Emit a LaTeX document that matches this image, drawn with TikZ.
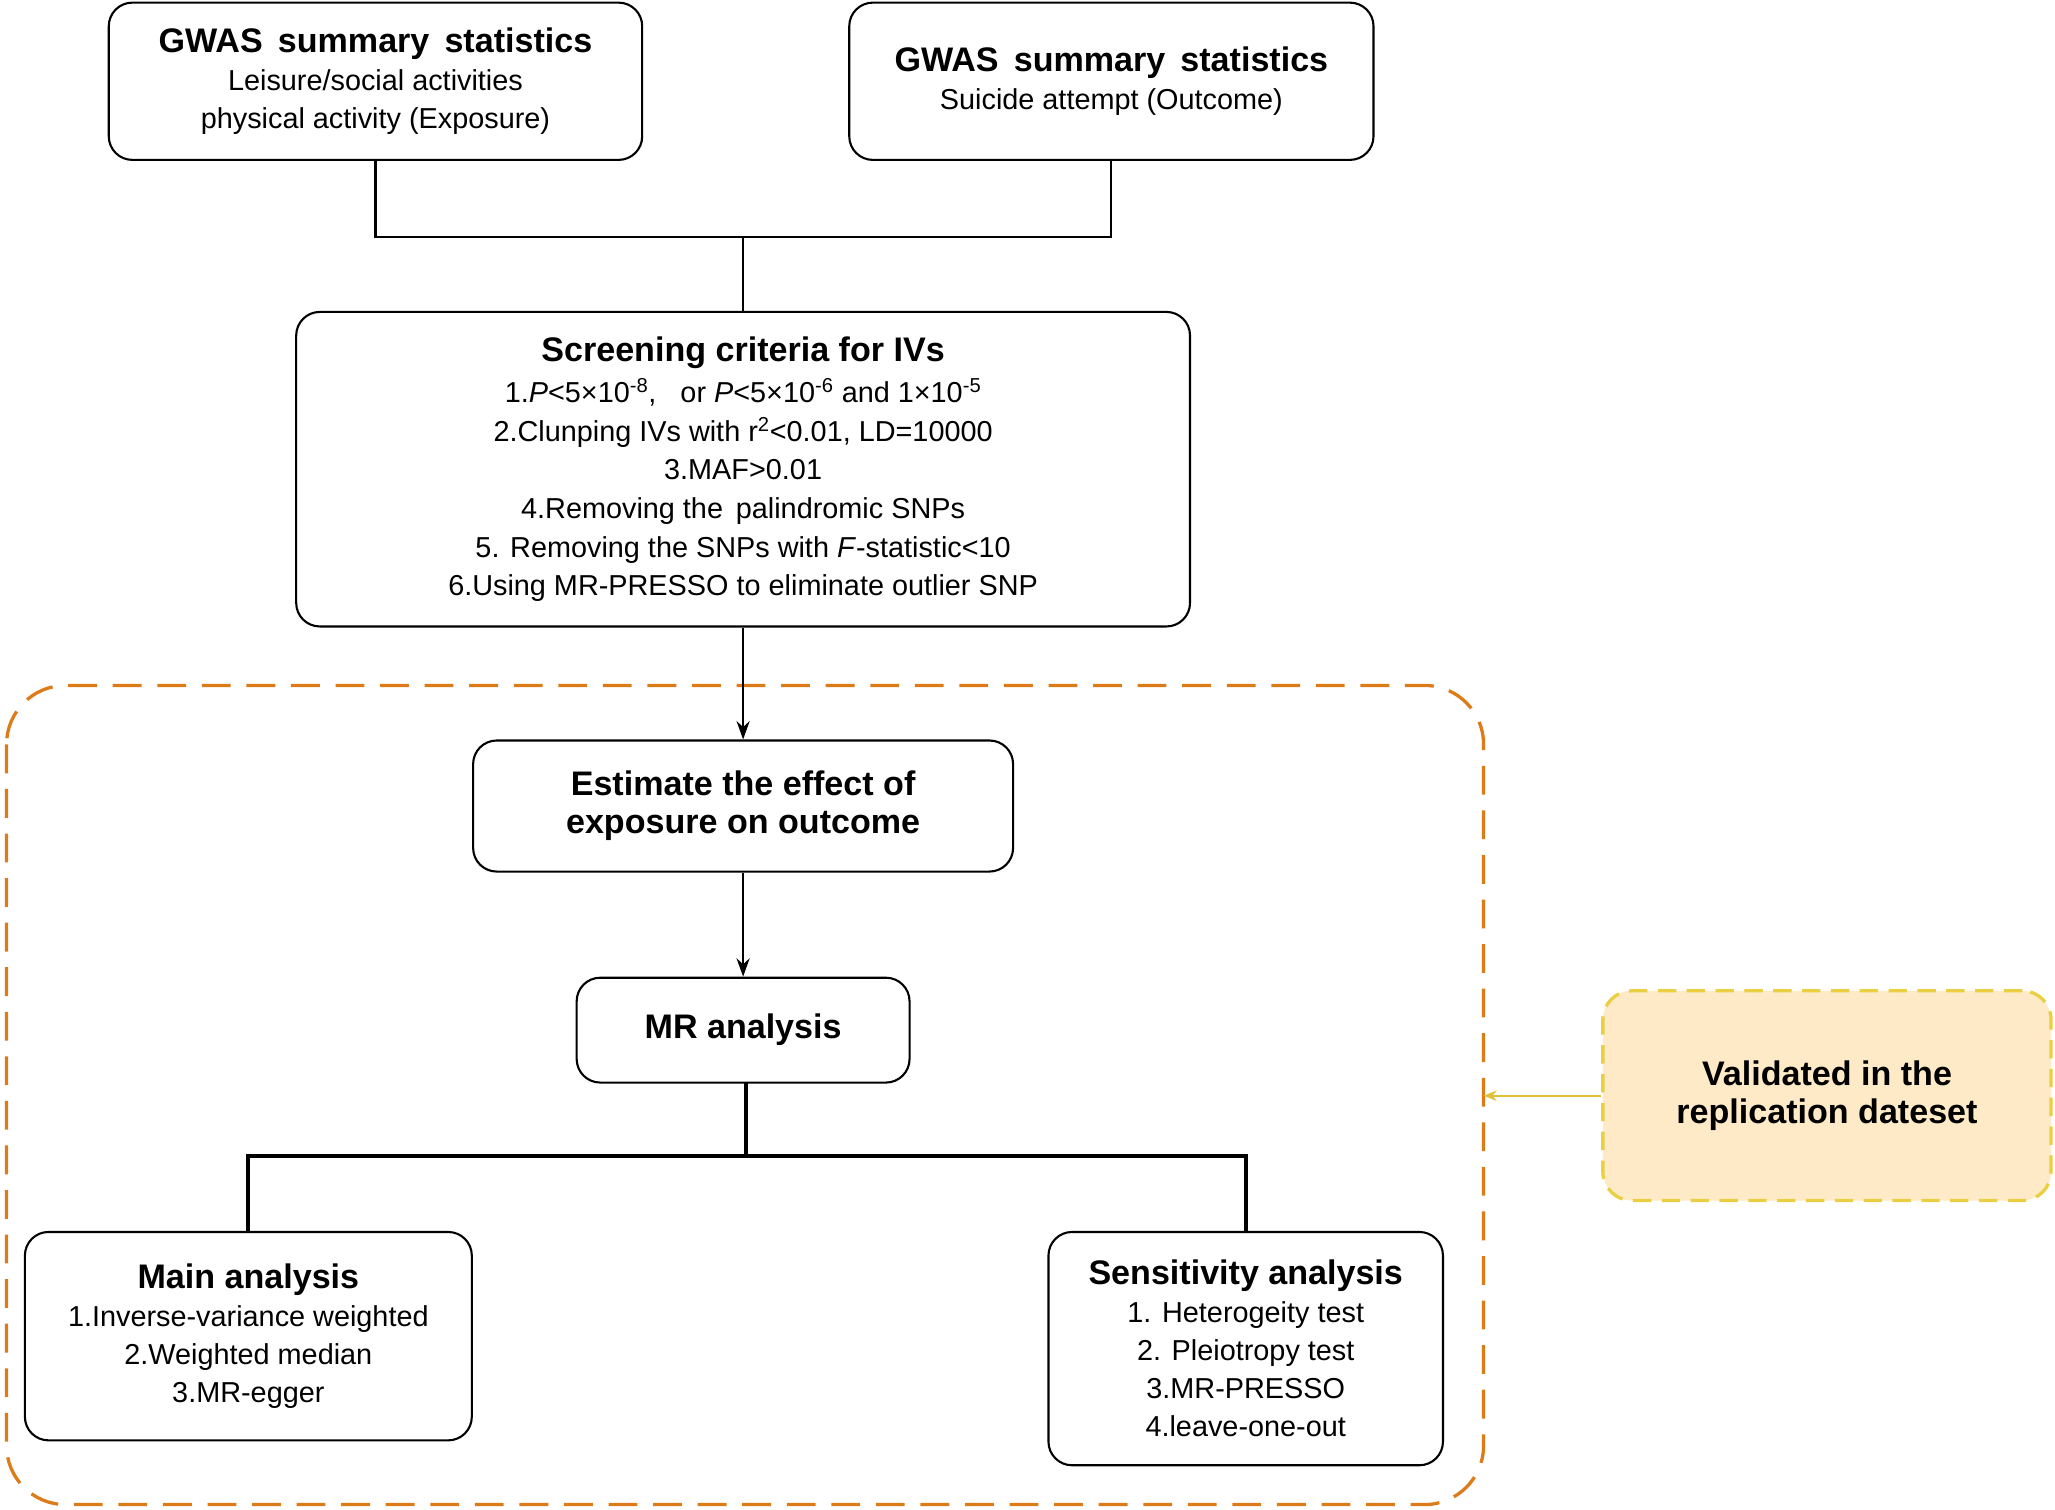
\documentclass[tikz,border=0pt]{standalone}
\usepackage{fontspec}
\setmainfont{Liberation Sans}
\usetikzlibrary{arrows.meta}
\newcommand{\ttl}[1]{{\fontsize{26}{32}\selectfont\bfseries #1}}
\begin{document}
\begin{tikzpicture}[x=1pt,y=-1pt,
  box/.style={draw,line width=1.6pt,rounded corners=18pt,align=center,inner sep=0pt,font=\fontsize{22}{29}\selectfont},
  ln/.style={line width=1.6pt},
  tr/.style={line width=3pt},
  arr/.style={line width=1.6pt,-{Stealth[length=14pt,width=10pt]}}]
\useasboundingbox (0,0) rectangle (1568,1152);
\draw[dash pattern=on 22pt off 12pt,color=orange!85!black!90,line width=2.5pt,rounded corners=45pt] (5,523) rectangle (1132,1148);
\node[box,minimum width=407pt,minimum height=120pt] (A) at (286.5,62) {\ttl{GWAS\, summary\, statistics}\\Leisure/social activities\\physical activity (Exposure)};
\node[box,minimum width=400pt,minimum height=120pt] (B) at (848,62) {\ttl{GWAS\, summary\, statistics}\\Suicide attempt (Outcome)};
\node[box,minimum width=682pt,minimum height=240pt,font=\fontsize{22}{29.5}\selectfont] (S) at (567,358) {\ttl{Screening criteria for IVs}\\[2pt]
1.\textit{P}<5×10\textsuperscript{-8},\;\; or \textit{P}<5×10\textsuperscript{-6} and 1×10\textsuperscript{-5}\\
2.Clunping IVs with r\textsuperscript{2}<0.01, LD=10000\\
3.MAF>0.01\\
4.Removing the\, palindromic SNPs\\
5. Removing the SNPs with \textit{F}-statistic<10\\
6.Using MR-PRESSO to eliminate outlier SNP};
\node[box,minimum width=412pt,minimum height=100pt] (E) at (567,615) {\ttl{Estimate the effect of}\\\ttl{exposure on outcome}};
\node[box,minimum width=254pt,minimum height=80pt] (M) at (567,786) {\ttl{MR analysis}};
\node[box,minimum width=341pt,minimum height=159pt] (MA) at (189.5,1019.5) {\ttl{Main analysis}\\1.Inverse-variance weighted\\2.Weighted median\\3.MR-egger};
\node[box,minimum width=301pt,minimum height=178pt] (SA) at (950.5,1029) {\ttl{Sensitivity analysis}\\1. Heterogeity test\\2. Pleiotropy test\\3.MR-PRESSO\\4.leave-one-out};
\node[box,draw=yellow!60!brown!90,fill=yellow!25!orange!20,dash pattern=on 14pt off 8pt,line width=2.5pt,minimum width=342pt,minimum height=160pt,rounded corners=22pt] (V) at (1394,836) {\ttl{Validated in the}\\\ttl{replication dateset}};
\coordinate (J) at (567,181);
\coordinate (T) at (569,882);
\coordinate (OB) at (1132,836);
\draw[ln] (A.south) |- (J) -| (B.south);
\draw[ln] (J) -- (S.north);
\draw[arr] (S.south) -- (E.north);
\draw[arr] (E.south) -- (M.north);
\draw[tr] (569,826) -- (T);
\draw[tr] (MA.north) |- (T) -| (SA.north);
\draw[line width=1.4pt,color=yellow!50!brown,-{Stealth[length=10pt,width=8pt]}] (V.west) -- (OB);
\end{tikzpicture}
\end{document}
